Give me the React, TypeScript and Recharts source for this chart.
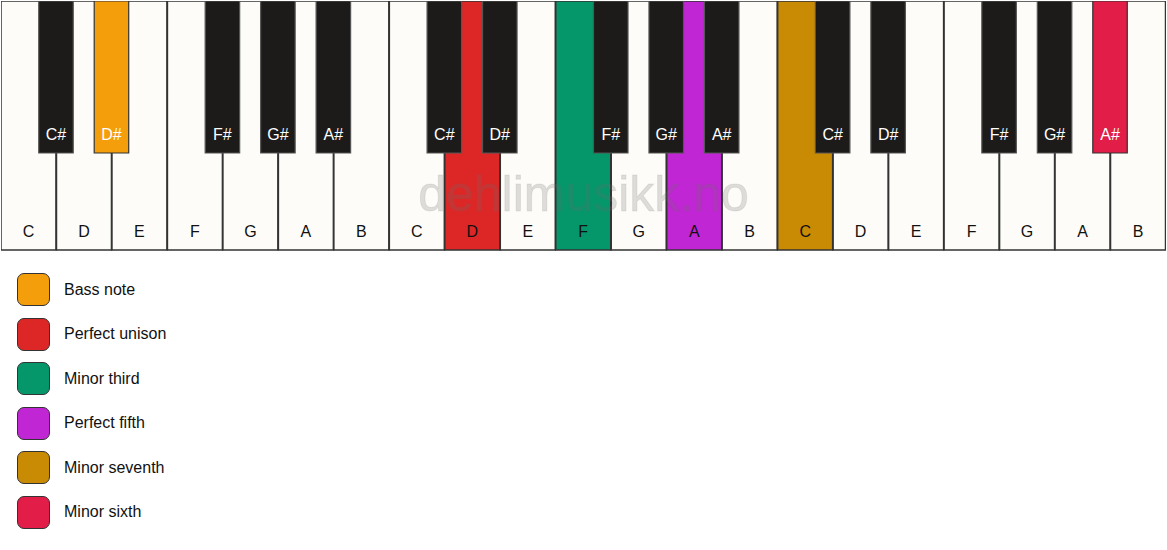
import React from 'react';
import { ComposedChart, XAxis, YAxis, Bar, Cell, LabelList, ReferenceArea } from 'recharts';

const octaveWhite = ['C', 'D', 'E', 'F', 'G', 'A', 'B'];
// black key that sits on the left edge of each white key (null = none)
const octaveBlackLeft = [null, 'C#', 'D#', null, 'F#', 'G#', 'A#'];
const octaves = [0, 1, 2];

const highlightedKeys = ['D#0', 'D1', 'F1', 'A1', 'C2', 'A#2'];
const highlightColors = ['#F49E0C', '#DD2727', '#05976A', '#C026D3', '#C98A04', '#E11D48'];
const legendLabels = ['Bass note', 'Perfect unison', 'Minor third', 'Perfect fifth', 'Minor seventh', 'Minor sixth'];

const watermark = 'dehlimusikk.no';

const FONT = '"Liberation Sans", Arial, sans-serif';
const W = 1167;

const colorOf = (id: string | null) => {
  const idx = id ? highlightedKeys.indexOf(id) : -1;
  return idx >= 0 ? highlightColors[idx] : null;
};

const keys = octaves.flatMap((o) =>
  octaveWhite.map((name, i) => {
    const black = octaveBlackLeft[i];
    return {
      id: `${name}${o}`,
      name,
      x: o * 7 + i + 0.5,
      white: [1, 250],
      bx: o * 7 + i,
      bid: black ? `${black}${o}` : null,
      bname: black,
      black: black ? [98, 250] : null,
    };
  })
);

const App = () => {
  return (
    <div style={{ position: 'absolute', left: 0, top: 0, width: W, height: 550, background: '#fff', fontFamily: FONT }}>
      <ComposedChart
        width={W}
        height={252}
        margin={{ top: 1, right: 1, bottom: 1, left: 1 }}
        data={keys}
        barCategoryGap="0%"
        barGap={0}
      >
        <XAxis dataKey="x" type="number" domain={[0, 21]} allowDataOverflow hide />
        <XAxis xAxisId="b" dataKey="bx" type="number" domain={[0, 21]} allowDataOverflow hide />
        <YAxis type="number" domain={[0, 250]} allowDataOverflow hide width={0} />
        <Bar dataKey="white" isAnimationActive={false} stroke="#333" strokeWidth={1.5}>
          {keys.map((k) => (
            <Cell key={k.id} fill={colorOf(k.id) ?? '#FDFCF8'} />
          ))}
          <LabelList dataKey="name" position="insideBottom" offset={13} fill="#111" fontSize={16} fontFamily={FONT} />
        </Bar>
        <Bar xAxisId="b" dataKey="black" barSize={34.5} isAnimationActive={false} strokeWidth={1.2}>
          {keys.map((k) => (
            <Cell
              key={`b-${k.id}`}
              fill={colorOf(k.bid) ?? '#1C1B19'}
              stroke={colorOf(k.bid) ? '#333' : '#555'}
            />
          ))}
          <LabelList dataKey="bname" position="insideBottom" offset={13} fill="#fff" fontSize={16} fontFamily={FONT} />
        </Bar>
        <ReferenceArea
          x1={0}
          x2={21}
          y1={0}
          y2={116}
          fillOpacity={0}
          strokeOpacity={0}
          ifOverflow="visible"
          label={{
            value: watermark,
            position: 'center',
            fill: 'rgba(110,110,110,0.22)',
            stroke: 'rgba(110,110,110,0.12)',
            fontSize: 50,
            fontFamily: FONT,
          }}
        />
      </ComposedChart>
      <div style={{ position: 'absolute', left: 17, top: 273 }}>
        {legendLabels.map((label, i) => (
          <div key={label} style={{ display: 'flex', alignItems: 'center', height: 33, marginBottom: 11.5 }}>
            <div
              style={{
                width: 31,
                height: 31,
                borderRadius: 7,
                border: '1.5px solid #333',
                background: highlightColors[i],
              }}
            />
            <span style={{ marginLeft: 14, fontSize: 16, color: '#111' }}>{label}</span>
          </div>
        ))}
      </div>
    </div>
  );
};

export default App;
